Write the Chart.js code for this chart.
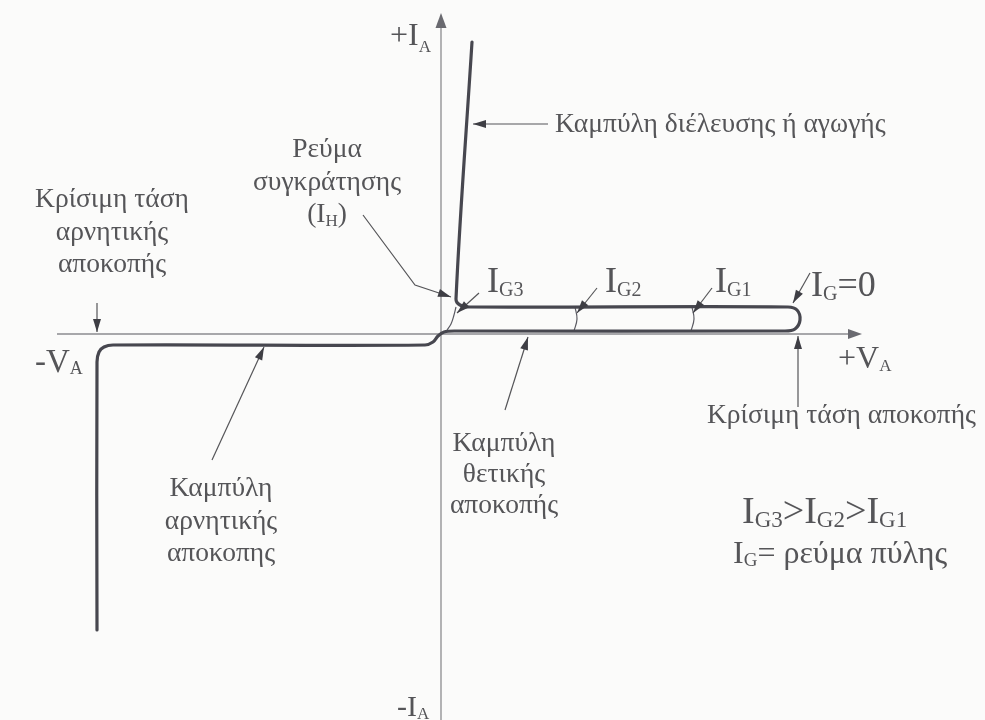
<!DOCTYPE html>
<html>
<head>
<meta charset="utf-8">
<script src="https://cdn.jsdelivr.net/npm/chart.js@4.4.1/dist/chart.umd.min.js"></script>
<style>
  body { margin: 0; background: #fbfbfa; }
</style>
</head>
<body>
<canvas id="scr" width="985" height="720"></canvas>
<script>
// thyristor characteristic, arbitrary units (V along x, I along y)

// reverse blocking branch, ends at the origin
const revV = [-34.4, -34.4, -34.2, -33.7, -32.8, -1.6, -0.8, -0.3, 0.3];
const revI = [-29.6, -2.8, -1.8, -1.3, -1.1, -1.1, -0.8, -0.2, 0.2];

// forward blocking loop and conduction branch
const fwdV = [1.4, 34.4, 35.4, 35.9, 35.6, 34.7, 2.9, 1.9, 1.5, 3.1];
const fwdI = [0.3, 0.3, 0.5, 1.4, 2.4, 2.7, 2.7, 2.9, 3.5, 29.2];

// switching paths for the gate currents
const g3V = [0.6, 1.0, 1.3, 1.5];
const g3I = [0.4, 1.0, 1.9, 2.7];
const g2V = [13.4, 13.6, 13.3];
const g2I = [2.7, 1.5, 0.3];
const g1V = [25.1, 25.3, 25.0];
const g1I = [2.7, 1.5, 0.3];

const FONT = '"Liberation Serif", "DejaVu Serif", serif';
const INK = '#555558';
const CURVE = '#47474f';

const pts = (xs, ys) => xs.map((v, i) => ({ x: v, y: ys[i] }));

// callouts: text lines, anchor, arrow path (last point is the tip)
const notes = [
  { lines: ['Καμπύλη διέλευσης ή αγωγής'], at: [11.4, 20.2], align: 'left',
    arrow: [[10.7, 21.0], [3.2, 21.0]] },
  { lines: ['Ρεύμα', 'συγκράτησης', '(I_{H})'], at: [-11.4, 17.7], align: 'center',
    arrow: [[-7.8, 11.9], [-2.6, 4.9], [1.0, 3.7]] },
  { lines: ['Κρίσιμη τάση', 'αρνητικής', 'αποκοπής'], at: [-32.9, 12.7], align: 'center',
    arrow: [[-34.4, 3.1], [-34.4, 0.2]] },
  { lines: ['Καμπύλη', 'θετικής', 'αποκοπής'], at: [6.3, -11.7], align: 'center', gap: 3.1,
    arrow: [[6.4, -7.6], [8.7, -0.3]] },
  { lines: ['Κρίσιμη τάση αποκοπής'], at: [26.6, -8.9], align: 'left',
    arrow: [[35.7, -7.3], [35.7, -0.2]] },
  { lines: ['Καμπύλη', 'αρνητικής', 'αποκοπης'], at: [-22.0, -16.2], align: 'center',
    arrow: [[-22.9, -12.6], [-17.7, -1.3]] },
  { big: 'I_{G3}', at: [4.6, 4.2], arrow: [[3.8, 4.1], [1.6, 2.1]] },
  { big: 'I_{G2}', at: [16.4, 4.2], arrow: [[15.6, 4.6], [13.6, 2.1]] },
  { big: 'I_{G1}', at: [27.4, 4.2], arrow: [[27.1, 4.6], [25.2, 2.1]] },
  { big: 'I_{G}=0', at: [37.0, 3.8], arrow: [[36.9, 6.1], [35.2, 3.1]] }
];

// axis names and the gate current legend
const marks = [
  { s: '+I_{A}', at: [-5.1, 28.9], size: 32, sub: 17, dy: 7 },
  { s: '-I_{A}', at: [-4.4, -38.2], size: 30, sub: 17, dy: 3 },
  { s: '+V_{A}', at: [39.7, -3.4], size: 32, sub: 17, dy: 3 },
  { s: '-V_{A}', at: [-40.6, -3.8], size: 33, sub: 18, dy: 2 },
  { s: 'I_{G3}>I_{G2}>I_{G1}', at: [30.1, -18.9], size: 38, sub: 23, dy: 4 },
  { s: 'I_{G}= ρεύμα πύλης', at: [29.2, -22.9], size: 32, sub: 19, dy: 3 }
];

function parse(str, size, sub, dy) {
  const out = [];
  str.split(/_\{([^}]*)\}/).forEach((t, i) => {
    if (t) out.push(i % 2 ? [t, sub, dy] : [t, size, 0]);
  });
  return out;
}

function drawRich(ctx, x, y, parts, align) {
  let w = 0;
  parts.forEach(p => { ctx.font = p[1] + 'px ' + FONT; w += ctx.measureText(p[0]).width; });
  let cx = align === 'center' ? x - w / 2 : x;
  ctx.textAlign = 'left';
  ctx.textBaseline = 'alphabetic';
  parts.forEach(p => {
    ctx.font = p[1] + 'px ' + FONT;
    ctx.fillText(p[0], cx, y + p[2]);
    cx += ctx.measureText(p[0]).width;
  });
}

function head(ctx, x0, y0, x1, y1, len, w) {
  const a = Math.atan2(y1 - y0, x1 - x0);
  const bx = x1 - len * Math.cos(a), by = y1 - len * Math.sin(a);
  ctx.beginPath();
  ctx.moveTo(x1, y1);
  ctx.lineTo(bx + w / 2 * Math.sin(a), by - w / 2 * Math.cos(a));
  ctx.lineTo(bx - w / 2 * Math.sin(a), by + w / 2 * Math.cos(a));
  ctx.closePath();
  ctx.fill();
}

const axesPlugin = {
  id: 'axes',
  beforeDatasetsDraw(chart) {
    const { ctx, scales: { x, y } } = chart;
    const ox = x.getPixelForValue(0), oy = y.getPixelForValue(0);
    ctx.save();
    ctx.strokeStyle = '#8c8c90';
    ctx.fillStyle = '#6a6a70';
    ctx.lineWidth = 1.3;
    const xl = x.getPixelForValue(-38.4), xr = x.getPixelForValue(42.1);
    const yb = y.getPixelForValue(-38.6), yt = y.getPixelForValue(32.1);
    ctx.beginPath();
    ctx.moveTo(xl, oy); ctx.lineTo(xr - 8, oy);
    ctx.moveTo(ox, yb); ctx.lineTo(ox, yt + 8);
    ctx.stroke();
    head(ctx, xl, oy, xr, oy, 14, 10);
    head(ctx, ox, yb, ox, yt, 15, 11);
    ctx.restore();
  }
};

const notesPlugin = {
  id: 'notes',
  afterDatasetsDraw(chart) {
    const { ctx, scales: { x, y } } = chart;
    ctx.save();
    ctx.fillStyle = INK;
    notes.forEach(n => {
      const px = x.getPixelForValue(n.at[0]);
      if (n.lines) {
        const gap = n.gap || 3.25;
        n.lines.forEach((l, k) => {
          drawRich(ctx, px, y.getPixelForValue(n.at[1] - k * gap), parse(l, 27.5, 17, 4), n.align);
        });
      } else {
        drawRich(ctx, px, y.getPixelForValue(n.at[1]), parse(n.big, 36, 20, 4), 'left');
      }
      const p = n.arrow.map(a => [x.getPixelForValue(a[0]), y.getPixelForValue(a[1])]);
      ctx.strokeStyle = INK;
      ctx.lineWidth = 1.2;
      ctx.beginPath();
      p.forEach((q, i) => i ? ctx.lineTo(q[0], q[1]) : ctx.moveTo(q[0], q[1]));
      ctx.stroke();
      const a = p[p.length - 2], b = p[p.length - 1];
      ctx.fillStyle = '#3e3e44';
      head(ctx, a[0], a[1], b[0], b[1], 13, 8);
      ctx.fillStyle = INK;
    });
    marks.forEach(m => {
      drawRich(ctx, x.getPixelForValue(m.at[0]), y.getPixelForValue(m.at[1]),
        parse(m.s, m.size, m.sub, m.dy), 'left');
    });
    ctx.restore();
  }
};

const thin = { borderColor: '#5a5a62', borderWidth: 1.2, tension: 0.4, showLine: true, pointRadius: 0 };

new Chart(document.getElementById('scr'), {
  type: 'scatter',
  data: {
    datasets: [
      {
        label: 'I_G=0',
        data: pts(revV.concat(fwdV), revI.concat(fwdI)),
        showLine: true,
        borderColor: CURVE,
        borderWidth: 3.2,
        tension: 0.35,
        pointRadius: 0,
        borderJoinStyle: 'round',
        borderCapStyle: 'round'
      },
      Object.assign({ label: 'I_G3', data: pts(g3V, g3I) }, thin),
      Object.assign({ label: 'I_G2', data: pts(g2V, g2I) }, thin),
      Object.assign({ label: 'I_G1', data: pts(g1V, g1I) }, thin)
    ]
  },
  options: {
    responsive: false,
    animation: false,
    devicePixelRatio: 1,
    layout: { padding: 0 },
    plugins: { legend: { display: false }, tooltip: { enabled: false } },
    scales: {
      x: { type: 'linear', min: -44.1, max: 54.4, display: false },
      y: { type: 'linear', min: -38.6, max: 33.4, display: false }
    }
  },
  plugins: [axesPlugin, notesPlugin]
});
</script>
</body>
</html>
